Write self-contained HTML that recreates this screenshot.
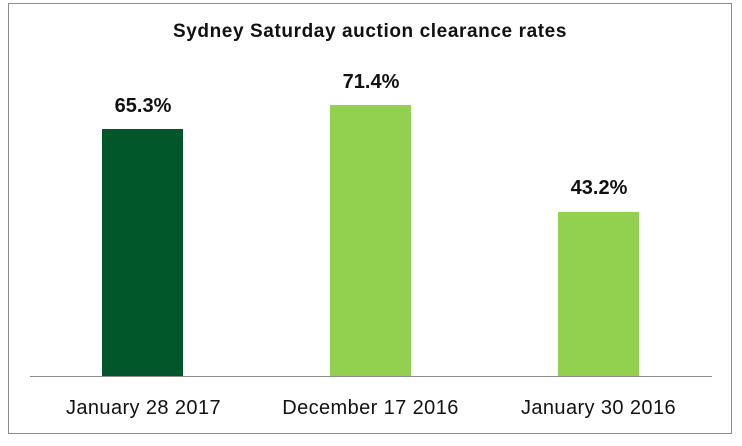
<!DOCTYPE html>
<html><head><style>
body{margin:0;width:742px;height:446px;background:#fff;position:relative;font-family:"Liberation Sans",sans-serif;overflow:hidden}
.f{position:absolute;left:8px;top:3px;width:724px;height:431px;border:1px solid #8c8c8c;box-sizing:border-box}
.t{position:absolute;left:8px;width:724px;top:21px;text-align:center;font-weight:bold;font-size:19px;letter-spacing:0.6px;color:#111}
.b{position:absolute;width:81px}
.v{position:absolute;width:120px;text-align:center;font-weight:bold;font-size:20px;color:#111}
.l{position:absolute;width:227px;text-align:center;font-size:20px;letter-spacing:0.4px;color:#111;top:397px}
.ax{position:absolute;left:30px;width:682px;top:376px;height:1px;background:#8c8c8c}
</style></head><body>
<div class="f"></div>
<div class="t">Sydney Saturday auction clearance rates</div>
<div class="b" style="left:102px;top:129px;height:248px;background:#01572a"></div>
<div class="b" style="left:330px;top:105px;height:272px;background:#92d050"></div>
<div class="b" style="left:558px;top:212px;height:165px;background:#92d050"></div>
<div class="v" style="left:83px;top:95px">65.3%</div>
<div class="v" style="left:311px;top:71px">71.4%</div>
<div class="v" style="left:539px;top:177px">43.2%</div>
<div class="ax"></div>
<div class="l" style="left:30px">January 28 2017</div>
<div class="l" style="left:257px">December 17 2016</div>
<div class="l" style="left:485px">January 30 2016</div>
</body></html>
